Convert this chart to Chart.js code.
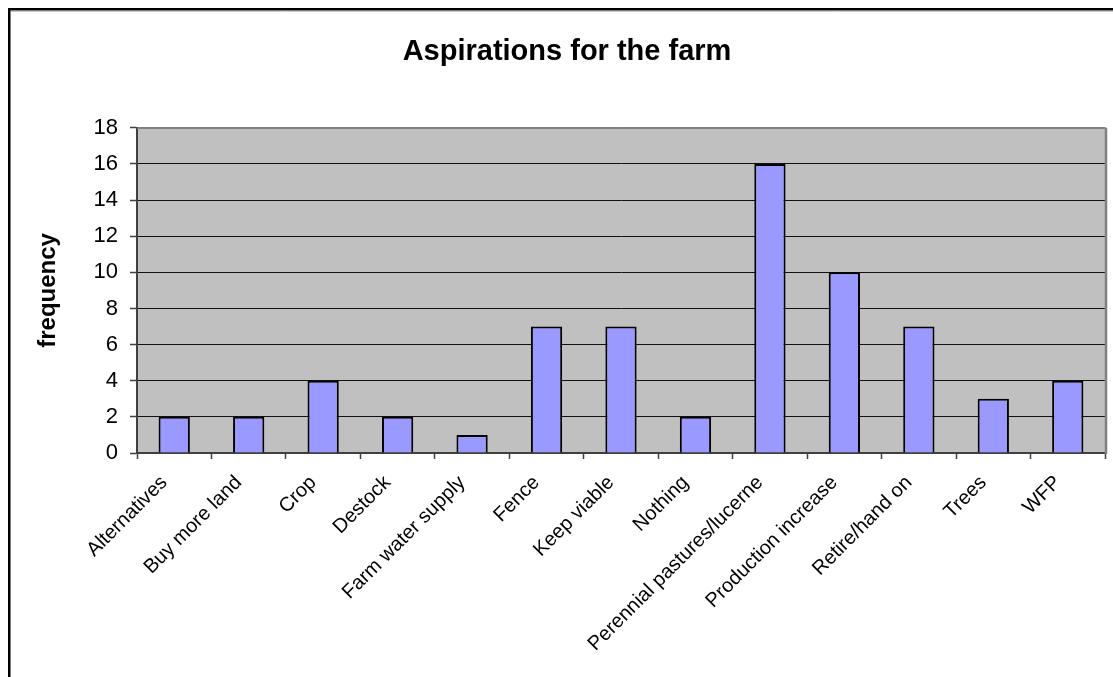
<!DOCTYPE html>
<html>
<head>
<meta charset="utf-8">
<script src="https://cdn.jsdelivr.net/npm/chart.js@4/dist/chart.umd.min.js"></script>
<style>
  html, body { margin: 0; padding: 0; background: #fff; overflow: hidden; }
  #wrap { width: 1113px; height: 677px; position: relative; }
</style>
</head>
<body>
<div id="wrap"><canvas id="c" width="1113" height="677"></canvas></div>
<script>
// Responses per aspiration category
const categories = [
  'Alternatives', 'Buy more land', 'Crop', 'Destock', 'Farm water supply',
  'Fence', 'Keep viable', 'Nothing', 'Perennial pastures/lucerne',
  'Production increase', 'Retire/hand on', 'Trees', 'WFP'
];
const frequency = [2, 2, 4, 2, 1, 7, 7, 2, 16, 10, 7, 3, 4];
const yMin = 0;
const yMax = 18;
const yStep = 2;

const FONT = "'Liberation Sans', Arial, sans-serif";

// Outer frame and grey plot background (Excel style)
const plotFrame = {
  id: 'plotFrame',
  beforeDraw(chart) {
    const { ctx, chartArea: a, width, height } = chart;
    ctx.save();
    ctx.fillStyle = '#ffffff';
    ctx.fillRect(0, 0, width, height);
    ctx.strokeStyle = '#000000';
    ctx.lineWidth = 2.5;
    ctx.strokeRect(9.25, 9.25, width + 40, height + 40);
    ctx.strokeStyle = '#c8c8c8';
    ctx.lineWidth = 1;
    ctx.beginPath();
    ctx.moveTo(11, 11.5); ctx.lineTo(width, 11.5);
    ctx.stroke();
    ctx.fillStyle = '#c0c0c0';
    ctx.fillRect(a.left, a.top, a.width, a.height);
    ctx.restore();
  },
  afterDraw(chart) {
    const { ctx, chartArea: a } = chart;
    ctx.save();
    ctx.strokeStyle = '#808080';
    ctx.lineWidth = 1.5;
    ctx.beginPath();
    ctx.moveTo(a.left, a.top + 0.5);
    ctx.lineTo(a.right + 1, a.top + 0.5);
    ctx.stroke();
    ctx.lineWidth = 2.5;
    ctx.beginPath();
    ctx.moveTo(a.right + 1, a.top);
    ctx.lineTo(a.right + 1, a.bottom + 1);
    ctx.stroke();
    ctx.restore();
  }
};

new Chart(document.getElementById('c'), {
  type: 'bar',
  data: {
    labels: categories,
    datasets: [{
      label: 'frequency',
      data: frequency,
      backgroundColor: '#9999ff',
      borderColor: '#000000',
      borderWidth: 2,
      categoryPercentage: 1.0,
      barPercentage: 0.42
    }]
  },
  options: {
    responsive: false,
    animation: false,
    layout: { padding: { left: 29, right: 8, top: 0, bottom: 0 } },
    plugins: {
      legend: { display: false },
      tooltip: { enabled: false },
      title: {
        display: true,
        text: 'Aspirations for the farm',
        color: '#000000',
        font: { family: FONT, size: 29, weight: 'bold' },
        padding: { top: 35, bottom: 58 }
      }
    },
    scales: {
      x: {
        offset: true,
        grid: {
          display: true,
          drawOnChartArea: false,
          offset: true,
          tickLength: 6,
          tickColor: '#404040',
          tickWidth: 1.5
        },
        border: { display: true, color: '#404040', width: 2 },
        ticks: {
          color: '#000000',
          font: { family: FONT, size: 20 },
          maxRotation: 45,
          minRotation: 45,
          autoSkip: false,
          padding: 12,
          labelOffset: -10
        },
        afterFit(scale) { scale.height = 224; }
      },
      y: {
        min: yMin,
        max: yMax,
        ticks: {
          stepSize: yStep,
          color: '#000000',
          font: { family: FONT, size: 22 },
          padding: 12
        },
        grid: {
          color: (c) => (c.tick && c.tick.value === yMax) ? '#808080' : '#111111',
          lineWidth: 1,
          tickLength: 7,
          tickColor: '#404040',
          tickWidth: 1.5
        },
        border: { display: true, color: '#404040', width: 2 },
        title: {
          display: true,
          text: 'frequency',
          color: '#000000',
          font: { family: FONT, size: 24, weight: 'bold' },
          padding: { top: 5, bottom: 0 }
        },
        afterFit(scale) { scale.width = 108; }
      }
    }
  },
  plugins: [plotFrame]
});
</script>
</body>
</html>
